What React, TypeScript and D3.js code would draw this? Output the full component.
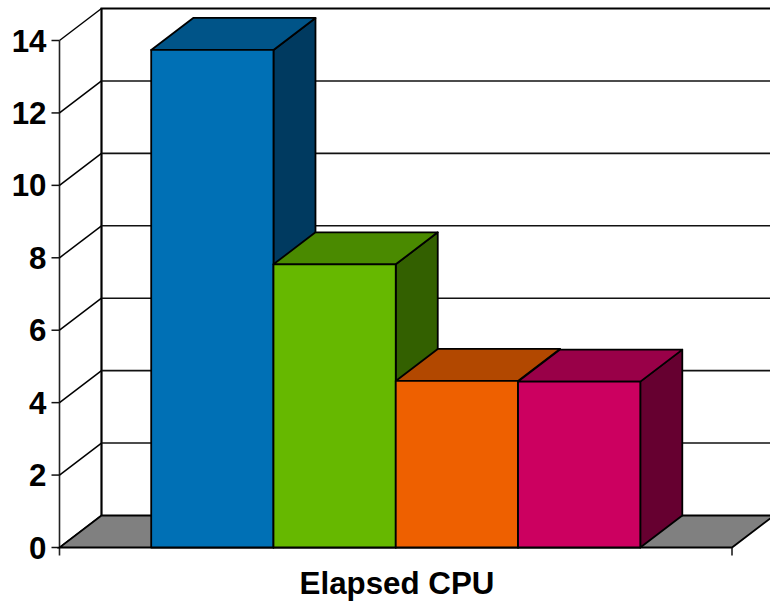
import React from "react";
import * as d3 from "d3";

const categories = ["A", "B", "C", "D"];
const values = [13.74, 7.82, 4.6, 4.58];
const frontColors = ["#0070b5", "#66b800", "#ee6000", "#cc0060"];
const topColors = ["#005488", "#4a8a00", "#b24800", "#990048"];
const sideColors = ["#003a60", "#336000", "#7a3000", "#660030"];
const yTicks = [0, 2, 4, 6, 8, 10, 12, 14];
const xLabel = "Elapsed CPU";

const W = 770, H = 602;
const DX = 42, DY = -32;
const FONT = "'Liberation Sans', Arial, sans-serif";

const y = d3.scaleLinear().domain([0, 14]).range([547.5, 40.5]);
const x = d3.scaleBand<string>().domain(categories).range([59.5, 732]).paddingInner(0).paddingOuter(0.75);

const poly = (pts: [number, number][]) => d3.line()(pts) + "Z";

export default function App() {
  const x0 = 59.5, x1 = 732, y0 = y(0), yTop = y(14);
  return (
    <svg width={W} height={H} style={{ position: "absolute", left: 0, top: 0, background: "#fff" }}>
      <line x1={x0 + DX - 1} y1={yTop + DY} x2={W} y2={yTop + DY} stroke="#000" strokeWidth={2.2} />
      <line x1={x0 + DX} y1={yTop + DY} x2={x0 + DX} y2={y0 + DY} stroke="#000" strokeWidth={2.2} />
      <line x1={x0} y1={yTop} x2={x0} y2={y0 + 8} stroke="#222" strokeWidth={1.6} />
      {yTicks.map((t) => (
        <g key={t}>
          {t > 0 && t < 14 && <line x1={x0 + DX} y1={y(t) + DY} x2={W} y2={y(t) + DY} stroke="#111" strokeWidth={1.6} />}
          <line x1={x0} y1={y(t)} x2={x0 + DX} y2={y(t) + DY} stroke="#000" strokeWidth={1.5} />
          <line x1={x0 - 8} y1={y(t)} x2={x0} y2={y(t)} stroke="#111" strokeWidth={1.5} />
          <text x={46.5} y={y(t) + 11} textAnchor="end" fontFamily={FONT} fontWeight="bold" fontSize={31.3} fill="#000">{t}</text>
        </g>
      ))}
      <path d={poly([[x0, y0], [x1, y0], [x1 + DX, y0 + DY], [x0 + DX, y0 + DY]])} fill="#808080" stroke="#000" strokeWidth={1.8} />
      <line x1={x1} y1={y0} x2={x1} y2={y0 + 8} stroke="#111" strokeWidth={1.5} />
      {categories.map((c, i) => {
        const l = x(c)!, r = l + x.bandwidth(), t = y(values[i]);
        return (
          <g key={c} stroke="#000" strokeWidth={1.8} strokeLinejoin="round">
            <path d={poly([[r, y0], [r + DX, y0 + DY], [r + DX, t + DY], [r, t]])} fill={sideColors[i]} />
            <path d={poly([[l, t], [l + DX, t + DY], [r + DX, t + DY], [r, t]])} fill={topColors[i]} />
            <path d={poly([[l, t], [r, t], [r, y0], [l, y0]])} fill={frontColors[i]} />
          </g>
        );
      })}
      <text x={397} y={594} textAnchor="middle" fontFamily={FONT} fontWeight="bold" fontSize={31.3} fill="#000">{xLabel}</text>
    </svg>
  );
}
